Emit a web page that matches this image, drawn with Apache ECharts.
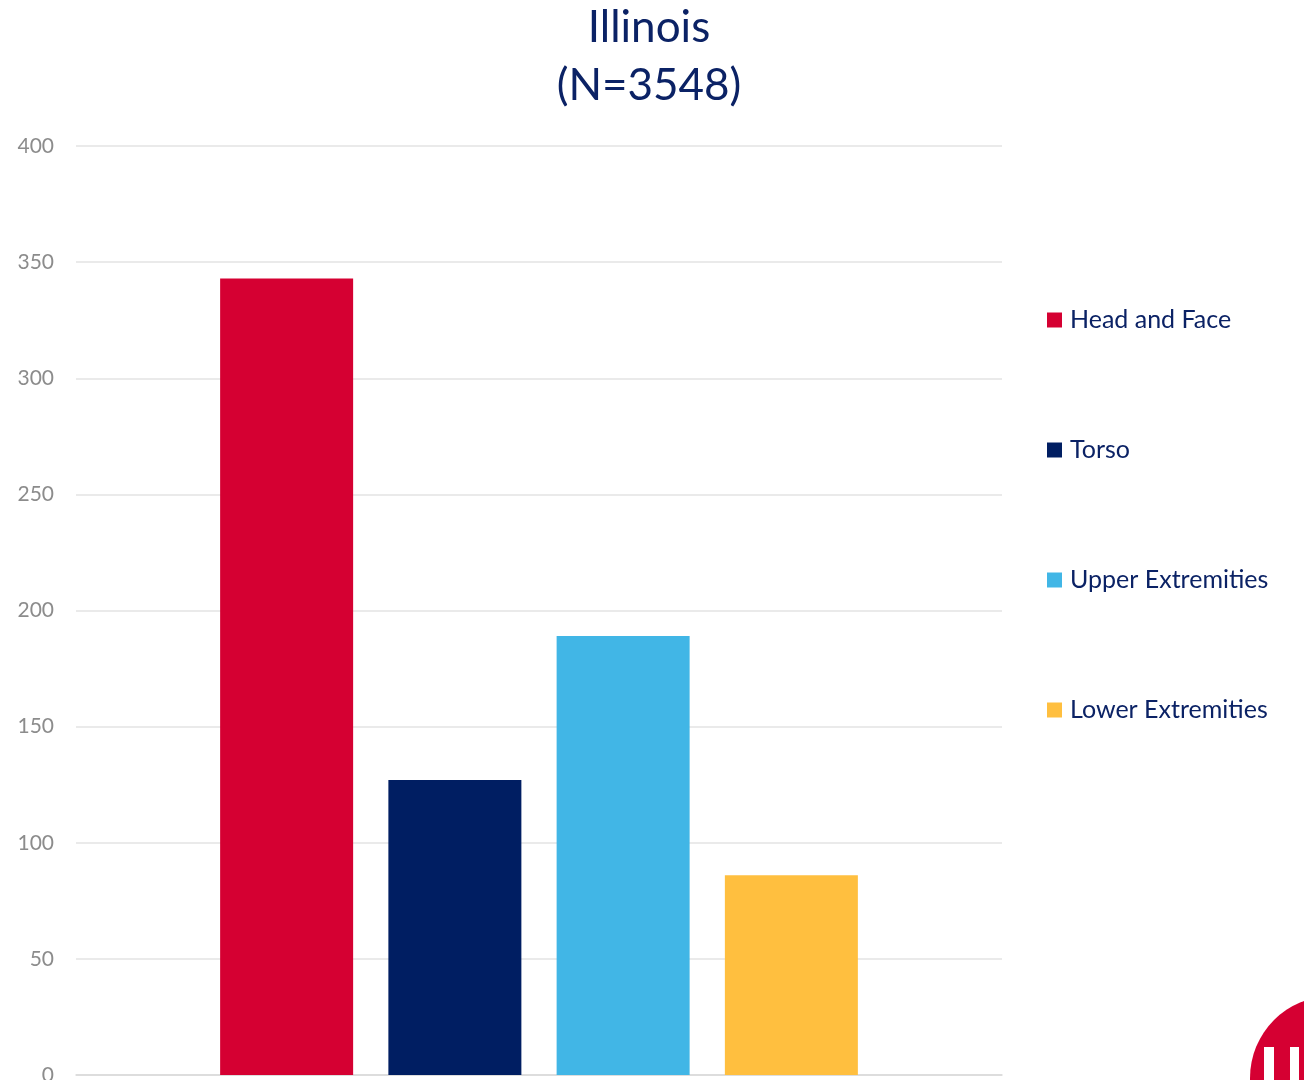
<!DOCTYPE html>
<html>
<head>
<meta charset="utf-8">
<script src="https://cdn.jsdelivr.net/npm/echarts@6/dist/echarts.min.js"></script>
<style>
  html, body { margin: 0; padding: 0; background: #ffffff; }
  #chart { width: 1304px; height: 1080px; }
</style>
</head>
<body>
<div id="chart"></div>
<script>
// Injury counts by body region, Illinois
const categories = ['Illinois'];
const seriesNames = ['Head and Face', 'Torso', 'Upper Extremities', 'Lower Extremities'];
const headFace = [343];
const torso = [127];
const upperExt = [189];
const lowerExt = [86];
const yTicks = [0, 50, 100, 150, 200, 250, 300, 350, 400];

const colors = ['#D50032', '#001E62', '#41B6E6', '#FFBF3F'];
const valueSets = [headFace, torso, upperExt, lowerExt];
const FONT = 'Lato, "Open Sans", sans-serif';
const NAVY = '#0B2265';

const chart = echarts.init(document.getElementById('chart'), null, { renderer: 'canvas' });

chart.setOption({
  animation: false,
  color: colors,
  title: {
    text: 'Illinois\n(N=3548)',
    left: 649,
    textAlign: 'center',
    top: -1,
    padding: 0,
    textStyle: {
      fontFamily: FONT,
      fontSize: 44,
      fontWeight: 'normal',
      color: NAVY,
      lineHeight: 58
    }
  },
  legend: {
    orient: 'vertical',
    left: 1047,
    top: 305,
    padding: 0,
    icon: 'rect',
    itemWidth: 15,
    itemHeight: 15,
    itemGap: 100,
    data: seriesNames,
    textStyle: {
      fontFamily: FONT,
      fontSize: 25,
      color: NAVY,
      lineHeight: 30,
      padding: [0, 0, 0, 3]
    }
  },
  grid: {
    left: 76,
    right: 302,
    top: 146,
    bottom: 5,
    outerBoundsMode: 'none',
    containLabel: false
  },
  xAxis: {
    type: 'category',
    data: categories,
    axisLine: { show: true, lineStyle: { color: '#d9d9d9', width: 1.5 } },
    axisTick: { show: false },
    axisLabel: { show: false }
  },
  yAxis: {
    type: 'value',
    min: yTicks[0],
    max: yTicks[yTicks.length - 1],
    interval: 50,
    axisLine: { show: false },
    axisTick: { show: false },
    axisLabel: {
      fontFamily: FONT,
      fontSize: 21,
      color: '#8c8c8c',
      margin: 22
    },
    splitLine: { lineStyle: { color: '#e3e3e3', width: 1.5 } }
  },
  series: seriesNames.map((name, i) => ({
    name: name,
    type: 'bar',
    data: valueSets[i],
    barWidth: 133,
    barGap: '26.5%',
    itemStyle: { color: colors[i] }
  })),
  graphic: [
    // corner badge
    {
      type: 'circle',
      shape: { cx: 1332, cy: 1078, r: 82 },
      style: { fill: '#D50032' },
      z: 100
    },
    {
      type: 'rect',
      shape: { x: 1264, y: 1047, width: 10, height: 40 },
      style: { fill: '#ffffff' },
      z: 101
    },
    {
      type: 'rect',
      shape: { x: 1290, y: 1047, width: 9, height: 40 },
      style: { fill: '#ffffff' },
      z: 101
    }
  ]
});
</script>
</body>
</html>
